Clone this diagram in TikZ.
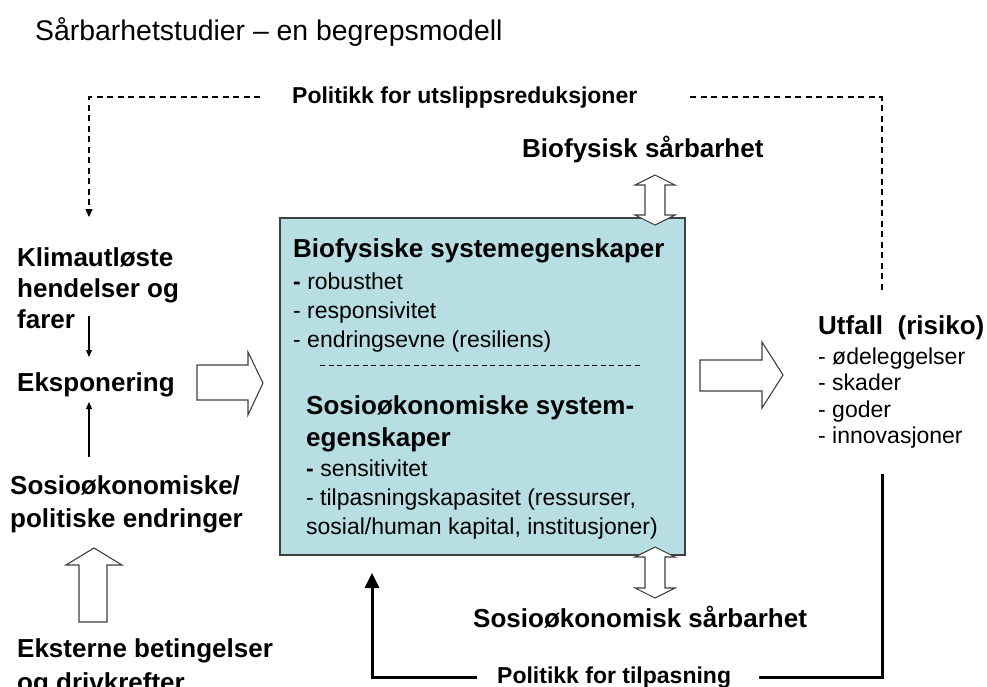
\documentclass[tikz,border=0pt]{standalone}
\usepackage{fontspec}
\setmainfont{Liberation Sans}
\usetikzlibrary{arrows.meta}
\definecolor{boxfill}{RGB}{183,222,226}
\definecolor{boxline}{RGB}{64,64,64}

\begin{document}
\begin{tikzpicture}[x=1pt,y=-1pt,
    lbl/.style={font=\bfseries\fontsize{26}{31}\selectfont,align=left,anchor=base west,inner sep=0pt},
    pol/.style={font=\bfseries\fontsize{23}{28}\selectfont,anchor=base west,inner sep=0pt},
    lst/.style={font=\fontsize{23}{29}\selectfont,align=left,anchor=base west,inner sep=0pt},
    block/.style={draw=boxline,fill=white,line width=1.1pt,line join=miter},
    smallarrow/.style={line width=1.2pt,-{Triangle[length=7pt,width=6pt]}},
    polline/.style={dash pattern=on 6pt off 4.5pt,line width=1.2pt},
    feedback/.style={line width=3pt}]
    \useasboundingbox (0,0) rectangle (987,686);
    \node[anchor=base west,inner sep=0pt,font=\fontsize{28.4}{34}\selectfont] (title) at (35,40) {Sårbarhetstudier – en begrepsmodell};

    % main box (multi-line nodes sit on their last baseline)
    \filldraw[fill=boxfill,draw=boxline,line width=1.1pt] (280,218) rectangle (685,555);
    \node[lbl] (biohead) at (293,257) {Biofysiske systemegenskaper};
    \node[lst] (biolist) at (293,347) {\textbf{-} robusthet\\- responsivitet\\- endringsevne (resiliens)};
    \draw[dashed,dash pattern=on 5pt off 3.5pt,line width=0.9pt] (320,365) -- (642,365);
    \node[lbl,font=\bfseries\fontsize{26}{32}\selectfont] (soshead) at (306,446) {Sosioøkonomiske system-\\egenskaper};
    \node[lst] (soslist) at (306,534) {\textbf{-} sensitivitet\\- tilpasningskapasitet (ressurser,\\sosial/human kapital, institusjoner)};

    % left column
    \node[lbl] (klima) at (17,328) {Klimautløste\\hendelser og\\farer};
    \node[lbl] (ekspo) at (17,391) {Eksponering};
    \node[lbl,font=\bfseries\fontsize{26}{33}\selectfont] (sosio) at (10,527) {Sosioøkonomiske/\\politiske endringer};
    \node[lbl,font=\bfseries\fontsize{26}{34}\selectfont] (ekstern) at (17,691) {Eksterne betingelser\\og drivkrefter};
    \coordinate (k1) at (89,316);
    \coordinate (k2) at (89,357);
    \coordinate (s1) at (89,457);
    \coordinate (s2) at (89,402);
    \draw[smallarrow] (k1) -- (k2);
    \draw[smallarrow] (s1) -- (s2);

    % right column
    \node[lbl] (utfall) at (818,334) {Utfall\ \ (risiko)};
    \node[lst,font=\fontsize{23}{26.5}\selectfont] (utlist) at (818,443.5) {- ødeleggelser\\- skader\\- goder\\- innovasjoner};

    % vulnerabilities
    \node[lbl] (biosaar) at (522,157) {Biofysisk sårbarhet};
    \node[lbl] (sossaar) at (473,627) {Sosioøkonomisk sårbarhet};

    % block arrows
    \draw[block] (197,365) -- (248,365) -- (248,352) -- (263,383) -- (248,415) -- (248,400) -- (197,400) -- cycle;
    \draw[block] (700,360) -- (762,360) -- (762,342) -- (783,375) -- (762,408) -- (762,391) -- (700,391) -- cycle;
    \draw[block] (94,548) -- (122,565) -- (107,565) -- (107,622) -- (79,622) -- (79,565) -- (66,565) -- cycle;
    \draw[block] (655,175) -- ++(20,10) -- ++(-10,0) -- ++(0,30) -- ++(10,0) -- ++(-20,10)
        -- ++(-20,-10) -- ++(10,0) -- ++(0,-30) -- ++(-10,0) -- cycle;
    \draw[block] (655,547) -- ++(20,10) -- ++(-10,0) -- ++(0,31) -- ++(10,0) -- ++(-20,10)
        -- ++(-20,-10) -- ++(10,0) -- ++(0,-31) -- ++(-10,0) -- cycle;

    % policy loops
    \node[pol] (utslipp) at (292,103) {Politikk for utslippsreduksjoner};
    \coordinate (klimatop) at (89,217);
    \coordinate (utfalltop) at (882,292);
    \draw[polline,-{Triangle[length=8pt,width=7pt]}] ([xshift=-32pt]utslipp.west) -| (klimatop);
    \draw[polline] ([xshift=53pt]utslipp.east) -| (utfalltop);

    \node[pol] (tilpas) at (497,683) {Politikk for tilpasning};
    \coordinate (fbtop) at (882,474);
    \coordinate (fbin) at (372,573);
    \draw[feedback] (fbtop) |- ([xshift=28pt]tilpas.east);
    \draw[feedback,-{Triangle[length=15pt,width=14pt]}] ([xshift=-20pt]tilpas.west) -| (fbin);
\end{tikzpicture}
\end{document}
